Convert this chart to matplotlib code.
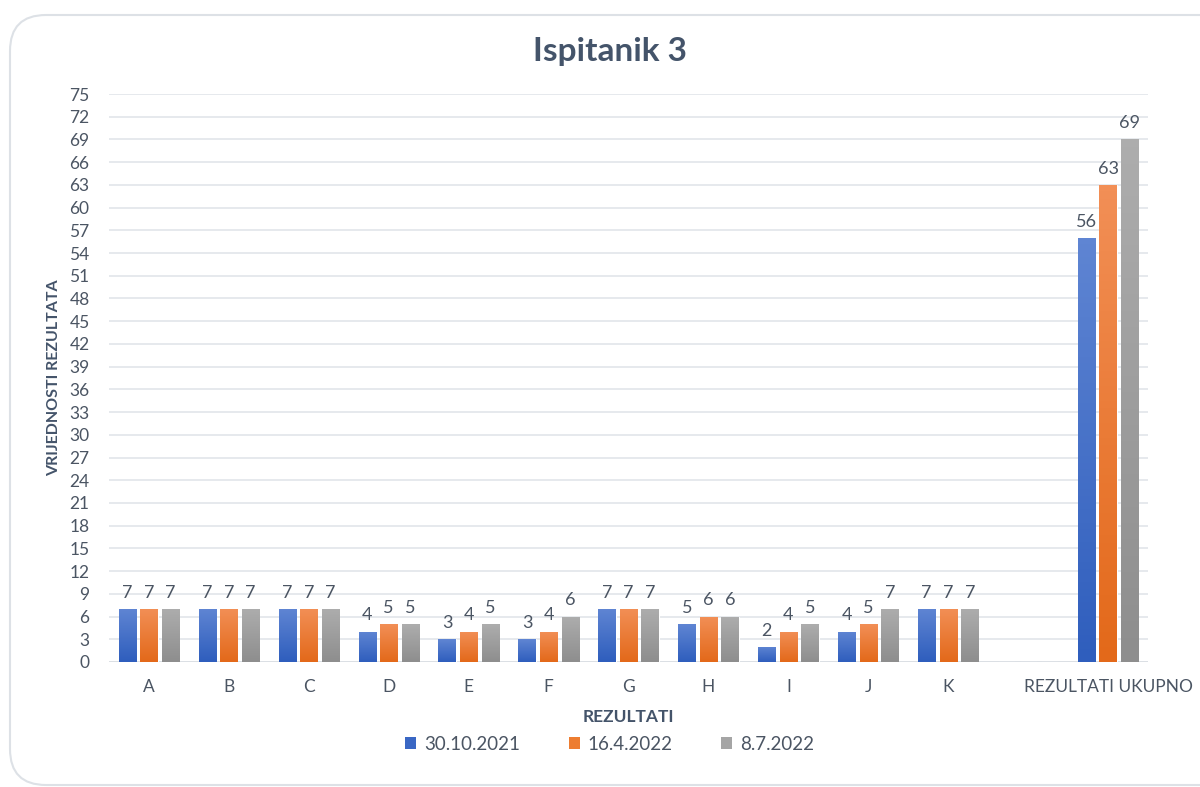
import numpy as np
import matplotlib
matplotlib.use('Agg')
import matplotlib.pyplot as plt
from matplotlib.patches import FancyBboxPatch, Patch
from matplotlib.colors import LinearSegmentedColormap

plt.rcParams['font.family'] = ['Lato', 'DejaVu Sans']

# --- data ---
categories = ['A', 'B', 'C', 'D', 'E', 'F', 'G', 'H', 'I', 'J', 'K', '', 'REZULTATI UKUPNO']
series_names = ['30.10.2021', '16.4.2022', '8.7.2022']
s1 = [7, 7, 7, 4, 3, 3, 7, 5, 2, 4, 7, None, 56]
s2 = [7, 7, 7, 5, 4, 4, 7, 6, 4, 5, 7, None, 63]
s3 = [7, 7, 7, 5, 5, 6, 7, 6, 5, 7, 7, None, 69]
yticks = list(range(0, 76, 3))

# top colour, bottom colour for each series
grad = [('#5f85d3', '#2f5ebd'), ('#f28f56', '#e3691a'), ('#adadad', '#8e8e8e')]
legend_colors = ['#3a67c4', '#ed7d31', '#a5a5a5']
text_col = '#4b5563'
title_col = '#44546a'

fig = plt.figure(figsize=(12, 7.87), dpi=100)
card = FancyBboxPatch((10 / 1200, 1 - 785 / 787), 1.2, 770 / 787,
                      boxstyle='round,pad=0,rounding_size=0.03',
                      transform=fig.transFigure, facecolor='white',
                      edgecolor='#dde1e6', linewidth=1.5, mutation_aspect=1200 / 787,
                      zorder=-10)
fig.patches.append(card)

ax = fig.add_axes([109 / 1200, 1 - 662 / 787, (1148 - 109) / 1200, (662 - 94) / 787])
ax.set_facecolor('none')
ax.set_zorder(2)

x = np.arange(len(categories))
w = 0.215
step = 0.27
for i, (vals, name) in enumerate(zip([s1, s2, s3], series_names)):
    xs = x + (i - 1) * step
    hs = [v if v is not None else 0 for v in vals]
    bars = ax.bar(xs, hs, width=w, color=legend_colors[i], edgecolor='white',
                  linewidth=0.8, zorder=3)
    cmap = LinearSegmentedColormap.from_list('g%d' % i, [grad[i][1], grad[i][0]])
    for b, v in zip(bars, vals):
        if v is None:
            continue
        bx = b.get_x()
        im = ax.imshow(np.linspace(0, 1, 64).reshape(-1, 1), cmap=cmap,
                       extent=[bx, bx + b.get_width(), 0, v],
                       origin='lower', aspect='auto', zorder=3.5)
        im.set_clip_path(b)
        ax.text(bx + b.get_width() / 2, v + 1.1, str(v), ha='center', va='bottom',
                fontsize=13, color=text_col, zorder=5)

ax.set_xlim(-0.5, len(categories) - 0.5)
ax.set_ylim(0, 75)
ax.set_yticks(yticks)
ax.set_xticks(x)
ax.set_xticklabels(categories)
ax.tick_params(axis='both', length=0, labelsize=12.5, labelcolor=text_col)
ax.tick_params(axis='x', pad=12)
ax.tick_params(axis='y', pad=14)
ax.grid(axis='y', color='#e2e5ea', linewidth=1.2, zorder=0)
for sp in ax.spines.values():
    sp.set_visible(False)
ax.axhline(0, color='#d9dde3', linewidth=1.2, zorder=2)

ax.set_xlabel('REZULTATI', fontsize=12.5, fontweight='bold', color=title_col, labelpad=10)
ax.set_ylabel('VRIJEDNOSTI REZULTATA', fontsize=11.5, fontweight='bold', color=title_col, labelpad=6)
fig.text(0.508, 1 - 52 / 787, 'Ispitanik 3', ha='center', va='center', fontsize=24,
         fontweight='bold', color=title_col)

handles = [Patch(facecolor=c, edgecolor='none') for c in legend_colors]
fig.legend(handles, series_names, loc='center', bbox_to_anchor=(0.508, 1 - 744 / 787),
           ncol=3, frameon=False, fontsize=13.5, labelcolor=text_col, handlelength=0.6,
           handleheight=0.6, columnspacing=2.6, handletextpad=0.4)

fig.savefig('out.png', dpi=100)
